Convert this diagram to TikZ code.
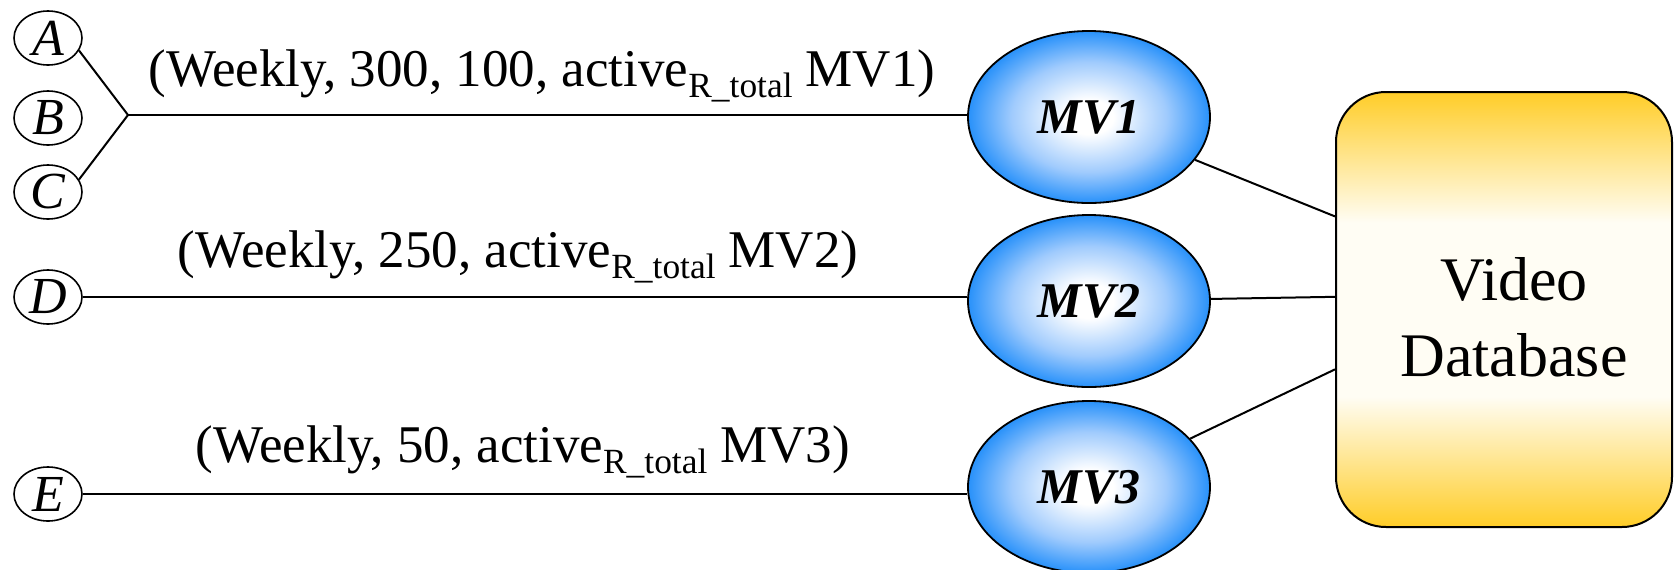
\documentclass[tikz,border=0pt]{standalone}
\usepackage{fontspec}
\setmainfont{Liberation Serif}
\usetikzlibrary{shapes.geometric,calc}

\definecolor{mvblue}{RGB}{40,145,250}
\definecolor{mvlight}{RGB}{160,203,253}
\definecolor{dbgold}{RGB}{255,205,40}
\definecolor{dbcream}{RGB}{255,253,244}

% white core fading to blue at the rim of each view ellipse
\pgfdeclareradialshading{mvshade}{\pgfpoint{0bp}{0bp}}{color(0bp)=(white); color(5bp)=(white); color(16bp)=(mvlight); color(25bp)=(mvblue); color(50bp)=(mvblue)}
% gold at top and bottom, cream band in the middle
\pgfdeclareverticalshading{dbshade}{100bp}{color(0bp)=(dbgold); color(25bp)=(dbgold); color(40bp)=(dbcream); color(60bp)=(dbcream); color(75bp)=(dbgold); color(100bp)=(dbgold)}

% lowered, smaller subscript used in the refresh labels
\newcommand\rtotal{\raisebox{-5.5pt}{\fontsize{17.7pt}{20pt}\selectfont R\_total}}

\begin{document}
\begin{tikzpicture}[x=0.5pt,y=-0.5pt,
  src/.style={ellipse, draw, line width=0.8pt, minimum width=34pt, minimum height=27pt,
    inner sep=0pt, font=\fontsize{26pt}{30pt}\selectfont\itshape},
  mv/.style={ellipse, draw, line width=0.9pt, shade, shading=mvshade,
    minimum width=121pt, minimum height=86pt, inner sep=0pt,
    font=\fontsize{25pt}{30pt}\selectfont\bfseries\itshape},
  dbbox/.style={draw, line width=1pt, rounded corners=25pt, shade, shading=dbshade,
    minimum width=168pt, minimum height=217.5pt, inner sep=0pt},
  dbtext/.style={align=center, inner sep=0pt, font=\fontsize{31pt}{38pt}\selectfont},
  link/.style={line width=1pt},
  lbl/.style={anchor=base, inner sep=0pt, font=\fontsize{26.5pt}{30pt}\selectfont}]
\useasboundingbox (0,0) rectangle (1678,569);

% source nodes
\node[src] (A) at (48,38) {A};
\node[src] (B) at (48,118) {B};
\node[src] (C) at (48,192) {C};
\node[src] (D) at (48,297) {D};
\node[src] (E) at (48,494) {E};
\coordinate (J) at (128,115);

% materialized views
\node[mv] (mv1) at (1089,117) {MV1};
\node[mv] (mv2) at (1089,301) {MV2};
\node[mv] (mv3) at (1089,487) {MV3};

% database
\node[dbbox] (db) at (1504,309.5) {};
\node[dbtext] (dbt) at (1514,317) {Video\\Database};
\coordinate (p1) at ($(db.north west)!0.287!(db.south west)$);
\coordinate (p2) at ($(db.north west)!0.471!(db.south west)$);
\coordinate (p3) at ($(db.north west)!0.637!(db.south west)$);

% connectors
\draw[link] (A.-22) -- (J);
\draw[link] (C.22) -- (J);
\draw[link] (J) -- (J -| mv1.west);
\draw[link] (D) -- (D -| mv2.west);
\draw[link] (E) -- (E -| mv3.west);
\draw[link] (mv1) -- (p1);
\draw[link] (mv2) -- (p2);
\draw[link] (mv3) -- (p3);

% refresh labels
\node[lbl] (l1) at (542,86.4) {(Weekly, 300, 100, active\rtotal{} MV1)};
\node[lbl] (l2) at (518,267) {(Weekly, 250, active\rtotal{} MV2)};
\node[lbl] (l3) at (523,462.6) {(Weekly, 50, active\rtotal{} MV3)};
\end{tikzpicture}
\end{document}
